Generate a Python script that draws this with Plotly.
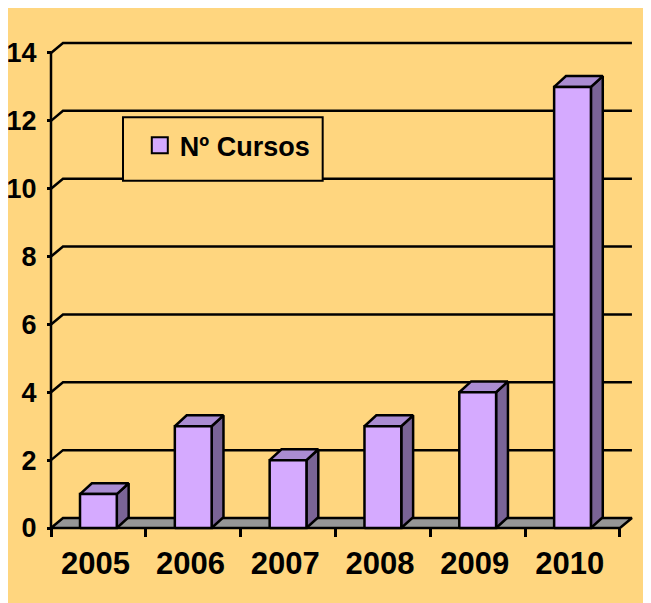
import plotly.graph_objects as go

# ---- data ----
years = ["2005", "2006", "2007", "2008", "2009", "2010"]
cursos = [1, 3, 2, 3, 4, 13]
y_ticks = [0, 2, 4, 6, 8, 10, 12, 14]
series_name = "Nº Cursos"

# ---- style ----
BG = "#FFD67F"
FRONT = "#D5AAFF"
TOP = "#AA8CD2"
SIDE = "#7A6496"
FLOOR = "#969696"
LW = 2.5

n = len(years)
half_w = 0.194            # half bar width (category units)
gdx, gdy = 0.1265, 0.295  # wall/floor depth offset (data units)
bdx, bdy = 0.125, 0.32    # bar depth offset (data units)
ymax = max(y_ticks)

fig = go.Figure()

# back wall gridlines (diagonal + horizontal)
gx, gy = [], []
for v in y_ticks[1:]:
    gx += [0, gdx, n + gdx, None]
    gy += [v, v + gdy, v + gdy, None]
fig.add_trace(go.Scatter(x=gx, y=gy, mode="lines", line=dict(color="black", width=LW),
                         showlegend=False, hoverinfo="skip"))

# floor
fig.add_trace(go.Scatter(x=[0, n, n + gdx, gdx, 0], y=[0, 0, gdy, gdy, 0], mode="lines",
                         fill="toself", fillcolor=FLOOR, line=dict(color="black", width=LW),
                         showlegend=False, hoverinfo="skip"))

# bars (front, side, top)
for i, v in enumerate(cursos):
    c = i + 0.5
    l, r = c - half_w, c + half_w
    fig.add_trace(go.Scatter(x=[r, r + bdx, r + bdx, r, r], y=[0, bdy, v + bdy, v, 0],
                             mode="lines", fill="toself", fillcolor=SIDE,
                             line=dict(color="black", width=LW), showlegend=False,
                             hoverinfo="skip"))
    fig.add_trace(go.Scatter(x=[l, r, r + bdx, l + bdx, l], y=[v, v, v + bdy, v + bdy, v],
                             mode="lines", fill="toself", fillcolor=TOP,
                             line=dict(color="black", width=LW), showlegend=False,
                             hoverinfo="skip"))
    fig.add_trace(go.Scatter(x=[l, r, r, l, l], y=[0, 0, v, v, 0],
                             mode="lines", fill="toself", fillcolor=FRONT,
                             line=dict(color="black", width=LW), showlegend=False,
                             name=years[i]))

# front y-axis line
fig.add_trace(go.Scatter(x=[0, 0], y=[0, ymax], mode="lines",
                         line=dict(color="black", width=LW), showlegend=False,
                         hoverinfo="skip"))

# legend entry
fig.add_trace(go.Scatter(x=[None], y=[None], mode="markers", name=series_name,
                         marker=dict(symbol="square", size=16, color=FRONT,
                                     line=dict(color="black", width=2))))

fig.update_layout(
    width=651, height=603,
    margin=dict(l=40, r=11, t=32, b=79, autoexpand=False),
    paper_bgcolor=BG,
    plot_bgcolor="rgba(0,0,0,0)",
    font=dict(family="Liberation Sans, Arial, sans-serif", color="black"),
    showlegend=True,
    legend=dict(x=0.153, y=0.835, xanchor="left", yanchor="top",
                bgcolor="rgba(0,0,0,0)", borderwidth=0, itemsizing="trace",
                font=dict(family="Liberation Sans, Arial",
                          size=27, weight="bold", color="black")),
    xaxis=dict(range=[-0.0316, 6.296], anchor="free", position=0.00813, automargin=False,
               tickmode="array", tickvals=[i + 0.47 for i in range(n)], ticktext=years,
               ticks="", showline=False, showgrid=False, zeroline=False,
               tickfont=dict(size=31, weight="bold"), ticklabelstandoff=14,
               minor=dict(tickmode="array", tickvals=list(range(n + 1)), ticks="outside",
                          ticklen=8, tickwidth=2.5, tickcolor="black", showgrid=False)),
    yaxis=dict(range=[-0.118, 14.383], anchor="free", position=0.005, automargin=False,
               tickmode="array", tickvals=y_ticks, ticktext=[str(t) for t in y_ticks],
               ticks="outside", ticklen=4, tickwidth=2.5, tickcolor="black",
               showline=False, showgrid=False, zeroline=False,
               tickfont=dict(size=27, weight="bold"), ticklabelstandoff=5),
    shapes=[
        dict(type="rect", xref="paper", yref="paper", x0=0.125, x1=0.4578, y0=0.714, y1=0.843,
             fillcolor=BG, line=dict(color="black", width=2), layer="above"),
    ],
)

fig.write_html("out.html")
